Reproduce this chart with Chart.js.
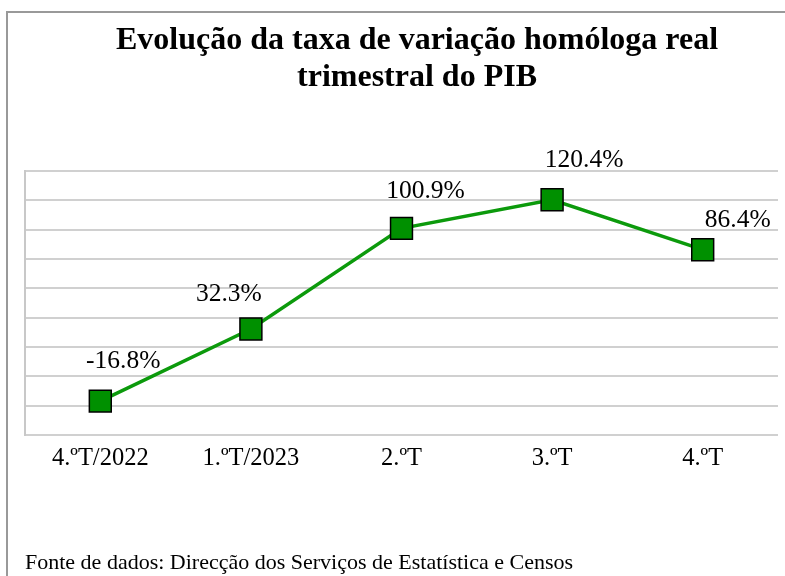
<!DOCTYPE html>
<html lang="pt">
<head>
  <meta charset="UTF-8">
  <title>Evolução da taxa de variação homóloga real trimestral do PIB</title>
  <style>
    * { box-sizing: border-box; }
    body { margin: 0; padding: 0; background: #fff; overflow: hidden; }
    .chart-wrap { position: relative; width: 785px; height: 576px; }
  </style>
</head>
<body>

<div class="chart-wrap">
  <canvas id="gdpChart" width="785" height="576"></canvas>
</div>

<script src="https://cdn.jsdelivr.net/npm/chart.js"></script>
<script>
  // data
  const quarters = ['4.ºT/2022', '1.ºT/2023', '2.ºT', '3.ºT', '4.ºT'];
  const growthRates = [-16.8, 32.3, 100.9, 120.4, 86.4];
  const rateLabels = ['-16.8%', '32.3%', '100.9%', '120.4%', '86.4%'];
  const titleLines = ['Evolução da taxa de variação homóloga real', 'trimestral do PIB'];
  const sourceNote = 'Fonte de dados: Direcção dos Serviços de Estatística e Censos';

  // label nudges (px) so they sit like in the original
  const labelDx = [23, -22, 24, 32, 35];
  const labelDy = [-40, -35, -37, -39, -29];

  const serif = "'Liberation Serif', 'Times New Roman', serif";

  // grey frame (left and top edge visible) and the two-line title
  const framePlugin = {
    id: 'frame',
    beforeDraw(chart) {
      const ctx = chart.ctx;
      ctx.save();
      ctx.fillStyle = '#fff';
      ctx.fillRect(0, 0, chart.width, chart.height);
      ctx.strokeStyle = '#999999';
      ctx.lineWidth = 2;
      ctx.beginPath();
      ctx.moveTo(7, chart.height + 5);
      ctx.lineTo(7, 12);
      ctx.lineTo(chart.width + 5, 12);
      ctx.stroke();

      ctx.fillStyle = '#000';
      ctx.font = 'bold 32px ' + serif;
      ctx.textAlign = 'center';
      ctx.textBaseline = 'middle';
      ctx.fillText(titleLines[0], 417, 41);
      ctx.fillText(titleLines[1], 417, 78);
      ctx.restore();
    }
  };

  const valueLabelPlugin = {
    id: 'valueLabels',
    afterDatasetsDraw(chart) {
      const ctx = chart.ctx;
      const meta = chart.getDatasetMeta(0);
      ctx.save();
      ctx.font = '25.5px ' + serif;
      ctx.fillStyle = '#000';
      ctx.textAlign = 'center';
      ctx.textBaseline = 'middle';
      meta.data.forEach((pt, i) => {
        ctx.fillText(rateLabels[i], pt.x + labelDx[i], pt.y + labelDy[i]);
      });
      ctx.restore();
    }
  };

  const ctx = document.getElementById('gdpChart').getContext('2d');
  new Chart(ctx, {
    type: 'line',
    data: {
      labels: quarters,
      datasets: [{
        data: growthRates,
        borderColor: '#0c9a0c',
        borderWidth: 3.5,
        backgroundColor: '#009000',
        pointStyle: 'rect',
        pointRadius: 15.5,
        pointHoverRadius: 15.5,
        pointBackgroundColor: '#009000',
        pointBorderColor: '#000',
        pointBorderWidth: 1.5,
        tension: 0
      }]
    },
    options: {
      responsive: false,
      animation: false,
      layout: { autoPadding: false, padding: { left: 25, right: 7, top: 171, bottom: 0 } },
      plugins: {
        legend: { display: false },
        tooltip: { enabled: false },
        title: { display: false },
        subtitle: {
          display: true,
          position: 'bottom',
          align: 'start',
          text: sourceNote,
          color: '#000',
          font: { family: serif, size: 22, lineHeight: 1.2 },
          padding: { top: 67, bottom: 0 }
        }
      },
      scales: {
        x: {
          offset: true,
          grid: { display: false, drawTicks: false },
          border: { display: false },
          ticks: {
            color: '#000',
            font: { family: serif, size: 24.5 },
            padding: 9,
            maxRotation: 0
          }
        },
        y: {
          min: -40,
          max: 140,
          ticks: { display: false, stepSize: 20 },
          grid: { color: '#d0d0d0', lineWidth: 2, drawTicks: false },
          border: { display: true, color: '#c8c8c8', width: 2 }
        }
      }
    },
    plugins: [framePlugin, valueLabelPlugin]
  });
</script>

</body>
</html>
